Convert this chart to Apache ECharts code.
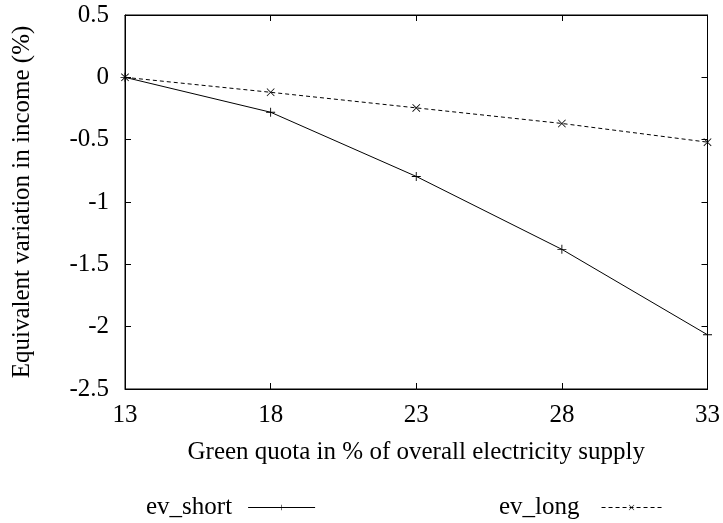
<!DOCTYPE html>
<html>
<head>
<meta charset="utf-8">
<script src="https://cdn.jsdelivr.net/npm/echarts@6/dist/echarts.min.js"></script>
<style>
  html, body { margin: 0; padding: 0; background: #fff; }
  #chart { width: 723px; height: 523px; }
</style>
</head>
<body>
<div id="chart"></div>
<script>
  // values
  const quota = ['13', '18', '23', '28', '33']
  const evShort = [0, -0.28, -0.795, -1.38, -2.065]
  const evLong = [0, -0.12, -0.245, -0.37, -0.52]

  const FONT = 'Liberation Serif'
  const SIZE = 25
  const PLUS = 'path://M4.5,0H5.5V4.5H10V5.5H5.5V10H4.5V5.5H0V4.5H4.5Z'
  const CROSS = 'path://M0,0.7L0.7,0L5,4.3L9.3,0L10,0.7L5.7,5L10,9.3L9.3,10L5,5.7L0.7,10L0,9.3L4.3,5Z'

  const tick = {show: true, inside: true, length: 6, lineStyle: {color: '#000', width: 1}}
  const line = {show: true, onZero: false, lineStyle: {color: '#000', width: 1}}
  const txt = {fontFamily: FONT, fontSize: SIZE, color: '#000'}

  let myChart = echarts.init(document.getElementById('chart'))
  myChart.setOption({
    animation: false,
    textStyle: {fontFamily: FONT},
    grid: {left: 125, right: 15, top: 15, bottom: 134, show: true, borderColor: '#000', borderWidth: 1},
    legend: [
      {
        data: ['ev_short'],
        left: 141,
        top: 490,
        align: 'right',
        itemWidth: 67,
        itemHeight: 7,
        lineStyle: {width: 1},
        textStyle: Object.assign({padding: [0, 11, 0, 0]}, txt)
      },
      {
        data: ['ev_long'],
        left: 494,
        top: 490,
        align: 'right',
        itemWidth: 60,
        itemHeight: 7,
        lineStyle: {width: 1},
        textStyle: Object.assign({padding: [0, 17, 0, 0]}, txt)
      }
    ],
    xAxis: [
      {
        type: 'category',
        data: quota,
        boundaryGap: false,
        position: 'bottom',
        name: 'Green quota in % of overall electricity supply',
        nameLocation: 'middle',
        nameGap: 51,
        nameTextStyle: txt,
        axisLine: line,
        axisTick: tick,
        axisLabel: Object.assign({margin: 14}, txt),
        splitLine: {show: false}
      },
      {
        type: 'category',
        data: quota,
        boundaryGap: false,
        position: 'top',
        axisLine: line,
        axisTick: tick,
        axisLabel: {show: false},
        splitLine: {show: false}
      }
    ],
    yAxis: [
      {
        type: 'value',
        min: -2.5,
        max: 0.5,
        interval: 0.5,
        position: 'left',
        name: 'Equivalent variation in income (%)',
        nameLocation: 'middle',
        nameGap: 90,
        nameTextStyle: txt,
        axisLine: line,
        axisTick: tick,
        axisLabel: Object.assign({margin: 16}, txt),
        splitLine: {show: false}
      },
      {
        type: 'value',
        min: -2.5,
        max: 0.5,
        interval: 0.5,
        position: 'right',
        axisLine: line,
        axisTick: tick,
        axisLabel: {show: false},
        splitLine: {show: false}
      }
    ],
    series: [
      {
        name: 'ev_short',
        type: 'line',
        data: evShort,
        symbol: PLUS,
        symbolSize: 9,
        lineStyle: {color: '#000', width: 1},
        itemStyle: {color: '#000'}
      },
      {
        name: 'ev_long',
        type: 'line',
        data: evLong,
        symbol: CROSS,
        symbolSize: 8,
        lineStyle: {color: '#000', width: 1, type: [4, 3]},
        itemStyle: {color: '#000'}
      }
    ]
  })
</script>
</body>
</html>
